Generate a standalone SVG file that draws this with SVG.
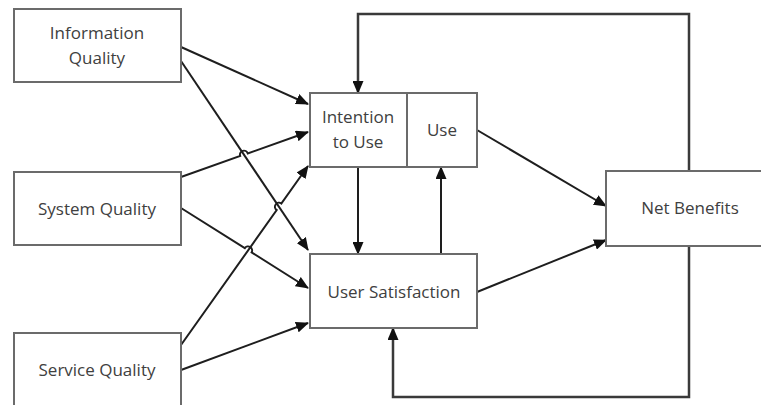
<svg xmlns="http://www.w3.org/2000/svg" width="761" height="405" viewBox="0 0 761 405">
<style>
.box{fill:#fff;stroke:#6b6b6b;stroke-width:2}
.lbl{font-family:"Open Sans","Liberation Sans",sans-serif;font-size:17px;fill:#404040;text-anchor:middle}
.con{fill:none;stroke:#1e1e1e;stroke-width:2;marker-end:url(#arr)}
.fb{fill:none;stroke:#3a3a3a;stroke-width:2.5;marker-end:url(#arr)}
</style>
<defs>
<marker id="arr" markerUnits="userSpaceOnUse" markerWidth="13" markerHeight="11" refX="12" refY="5.5" orient="auto">
<path d="M0,0 L13,5.5 L0,11 z" fill="#111"/>
</marker>
</defs>
<rect width="761" height="405" fill="#fff"/>
<g id="connectors">
<path class="con" d="M181,47 L308,104"/>
<path class="con" d="M181,61 L308,250"/>
<path class="con" d="M181,177 L240.2,156 A4 4 0 0 1 247.8,153.4 L308,132"/>
<path class="con" d="M181,208 L244.8,248.2 A4 4 0 0 1 251.6,252.4 L308,288"/>
<path class="con" d="M181,345 L276.7,210.1 A4 4 0 0 1 281.3,203.5 L308,166"/>
<path class="con" d="M181,370 L308,323"/>
<path class="con" d="M358,167 V254"/>
<path class="con" d="M441,254 V167"/>
<path class="con" d="M477,130 L606,206"/>
<path class="con" d="M477,292 L606,240"/>
<path class="fb" d="M689,171 V14 H358 V93"/>
<path class="fb" d="M689,246 V397 H393 V328"/>
</g>
<g id="information-quality">
<rect class="box" x="14" y="9" width="167" height="73"/>
<text class="lbl" x="97" y="39">Information</text>
<text class="lbl" x="97" y="64">Quality</text>
</g>
<g id="system-quality">
<rect class="box" x="14" y="172" width="167" height="73"/>
<text class="lbl" x="97" y="215">System Quality</text>
</g>
<g id="service-quality">
<rect class="box" x="14" y="333" width="167" height="80"/>
<text class="lbl" x="97" y="376">Service Quality</text>
</g>
<g id="intention-to-use">
<rect class="box" x="310" y="93" width="97" height="74"/>
<text class="lbl" x="358" y="123">Intention</text>
<text class="lbl" x="358" y="148">to Use</text>
</g>
<g id="use">
<rect class="box" x="407" y="93" width="70" height="74"/>
<text class="lbl" x="442" y="136">Use</text>
</g>
<g id="user-satisfaction">
<rect class="box" x="310" y="254" width="167" height="74"/>
<text class="lbl" x="394" y="298">User Satisfaction</text>
</g>
<g id="net-benefits">
<rect class="box" x="606" y="171" width="170" height="75"/>
<text class="lbl" x="690" y="214">Net Benefits</text>
</g>
</svg>
